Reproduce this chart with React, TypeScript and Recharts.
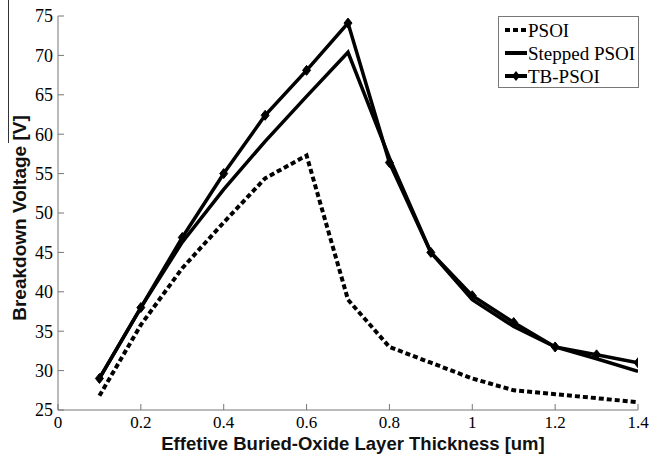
import React from 'react';
import { LineChart, Line, XAxis, YAxis, Legend } from 'recharts';

const thickness = [0.1, 0.2, 0.3, 0.4, 0.5, 0.6, 0.7, 0.8, 0.9, 1.0, 1.1, 1.2, 1.3, 1.4];
const psoi = [26.8, 35.8, 43.0, 48.8, 54.4, 57.3, 39.0, 33.0, 31.0, 29.0, 27.5, 27.0, 26.5, 26.0];
const stepped = [29.0, 38.0, 46.3, 53.0, 59.1, 64.8, 70.4, 57.0, 45.0, 39.0, 35.6, 33.0, 31.5, 29.9];
const tbpsoi = [29.0, 38.0, 46.9, 55.0, 62.4, 68.1, 74.1, 56.4, 45.0, 39.5, 36.1, 33.0, 32.0, 31.0];

const xTicks = [0, 0.2, 0.4, 0.6, 0.8, 1, 1.2, 1.4];
const yTicks = [25, 30, 35, 40, 45, 50, 55, 60, 65, 70, 75];
const seriesNames = ['PSOI', 'Stepped PSOI', 'TB-PSOI'];
const xTitle = 'Effetive Buried-Oxide Layer Thickness [um]';
const yTitle = 'Breakdown Voltage [V]';

const data = thickness.map((t, i) => ({ t, psoi: psoi[i], stepped: stepped[i], tb: tbpsoi[i] }));

const AXIS = '#777';
const SERIF = 'Liberation Serif';
const SANS = 'Liberation Sans';

const XTick = (props: any) => {
  const { x, y, payload } = props;
  return (
    <text x={x} y={y} dy="0.71em" textAnchor="middle" style={{ fontFamily: SERIF, fontSize: 17 }} fill="#000">
      {String(payload.value)}
    </text>
  );
};

const YTick = (props: any) => {
  const { x, y, payload } = props;
  return (
    <text x={x} y={y} dy="0.35em" textAnchor="end" style={{ fontFamily: SERIF, fontSize: 18 }} fill="#000">
      {String(payload.value)}
    </text>
  );
};

const YTitle = () => (
  <text
    transform="translate(19,218) rotate(-90)"
    textAnchor="middle"
    dy="0.35em"
    style={{ fontFamily: SANS, fontWeight: 'bold', fontSize: 19 }}
    fill="#111"
  >
    {yTitle}
  </text>
);

const XTitle = (props: any) => {
  const vb = props.viewBox || {};
  const cx = (vb.x ?? 58) + (vb.width ?? 580) / 2 + 5;
  return (
    <text
      x={cx}
      y={450}
      textAnchor="middle"
      style={{ fontFamily: SANS, fontWeight: 'bold', fontSize: 18.5 }}
      fill="#111"
    >
      {xTitle}
    </text>
  );
};

const Diamond = (props: any) => {
  const { cx, cy, index } = props;
  if (cx == null || cy == null) return <g key={index} />;
  return (
    <path
      key={index}
      d={`M${cx},${cy - 5} L${cx + 4},${cy} L${cx},${cy + 5} L${cx - 4},${cy} Z`}
      fill="#000"
      stroke="#000"
      strokeWidth={1}
    />
  );
};

const renderLegend = () => {
  const rows = [
    { name: seriesNames[0], dash: '5 3', marker: false },
    { name: seriesNames[1], dash: undefined, marker: false },
    { name: seriesNames[2], dash: undefined, marker: true },
  ];
  return (
    <div
      style={{
        width: 141,
        height: 72,
        border: `1px solid ${AXIS}`,
        background: '#fff',
        boxSizing: 'border-box',
      }}
    >
      <svg width={139} height={70} style={{ display: 'block' }}>
        {rows.map((r, i) => {
          const y = 13 + i * 23;
          return (
            <g key={r.name}>
              <line x1={6} x2={28} y1={y} y2={y} stroke="#000" strokeWidth={4} strokeDasharray={r.dash} />
              {r.marker && (
                <path d={`M17,${y - 5} L21,${y} L17,${y + 5} L13,${y} Z`} fill="#000" />
              )}
              <text x={29} y={y} dy="0.35em" style={{ fontFamily: SERIF, fontSize: 19 }} fill="#000">
                {r.name}
              </text>
            </g>
          );
        })}
      </svg>
    </div>
  );
};

export default function App() {
  return (
    <div style={{ position: 'absolute', left: 0, top: 0, width: 650, height: 456, background: '#fff' }}>
      <div style={{ position: 'absolute', left: 8, top: 0, width: 1, height: 143, background: '#333' }} />
      <LineChart
        width={650}
        height={456}
        data={data}
        margin={{ top: 16, right: 12, left: 0, bottom: 0 }}
      >
        <XAxis
          xAxisId="b"
          dataKey="t"
          type="number"
          domain={[0, 1.4]}
          ticks={xTicks}
          allowDataOverflow
          height={46}
          stroke={AXIS}
          tickSize={-6}
          tickMargin={12}
          tick={<XTick />}
          label={<XTitle />}
        />
        <XAxis
          xAxisId="t"
          dataKey="t"
          type="number"
          orientation="top"
          domain={[0, 1.4]}
          ticks={xTicks}
          allowDataOverflow
          height={0}
          stroke={AXIS}
          tickSize={-6}
          tickFormatter={() => ''}
        />
        <YAxis
          yAxisId="l"
          type="number"
          domain={[25, 75]}
          ticks={yTicks}
          allowDataOverflow
          width={58}
          stroke={AXIS}
          tickSize={-6}
          tickMargin={11}
          tick={<YTick />}
          label={<YTitle />}
        />
        <YAxis
          yAxisId="r"
          type="number"
          orientation="right"
          domain={[25, 75]}
          ticks={yTicks}
          allowDataOverflow
          width={0}
          stroke={AXIS}
          tickSize={-6}
          tickFormatter={() => ''}
        />
        <Legend
          layout="vertical"
          align="center"
          verticalAlign="middle"
          content={renderLegend}
          wrapperStyle={{ position: 'absolute', left: 498, top: 16, width: 141, height: 72 }}
        />
        <Line
          xAxisId="b"
          yAxisId="l"
          dataKey="psoi"
          name={seriesNames[0]}
          stroke="#000"
          strokeWidth={4}
          strokeDasharray="5 3"
          dot={false}
          isAnimationActive={false}
        />
        <Line
          xAxisId="b"
          yAxisId="l"
          dataKey="stepped"
          name={seriesNames[1]}
          stroke="#000"
          strokeWidth={3.5}
          dot={false}
          isAnimationActive={false}
        />
        <Line
          xAxisId="b"
          yAxisId="l"
          dataKey="tb"
          name={seriesNames[2]}
          stroke="#000"
          strokeWidth={3.5}
          dot={Diamond}
          isAnimationActive={false}
        />
      </LineChart>
    </div>
  );
}
